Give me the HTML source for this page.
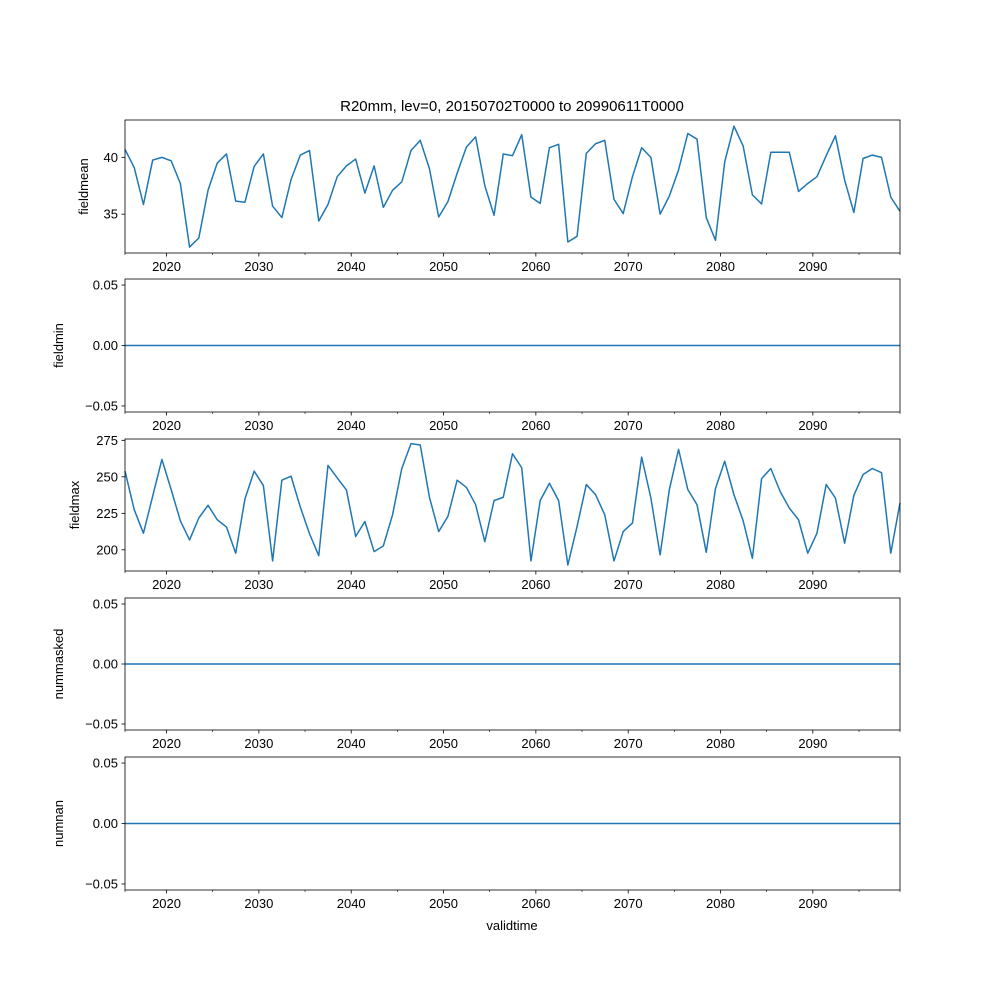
<!DOCTYPE html>
<html><head><meta charset="utf-8"><style>
html,body{margin:0;padding:0;background:#fff;}
svg{display:block;font-family:"Liberation Sans","DejaVu Sans",sans-serif;}
</style></head><body>
<svg id="fig" width="1000" height="1000" viewBox="0 0 1000 1000">
<text x="512" y="111" font-size="15" text-anchor="middle">R20mm, lev=0, 20150702T0000 to 20990611T0000</text>
<text x="512" y="930" font-size="13" text-anchor="middle">validtime</text>
</svg>
<script>
const fieldmeanValues=[40.7,39.1,35.85,39.76,40.0,39.7,37.7,32.1,32.9,37.1,39.5,40.3,36.15,36.05,39.2,40.3,35.7,34.7,38.05,40.2,40.6,34.4,35.85,38.3,39.25,39.85,36.85,39.25,35.6,37.1,37.85,40.6,41.5,39.0,34.75,36.1,38.6,40.9,41.8,37.5,34.9,40.3,40.15,42.0,36.5,35.95,40.85,41.15,32.55,33.05,40.35,41.2,41.5,36.3,35.05,38.3,40.85,40.0,35.0,36.6,38.9,42.1,41.6,34.7,32.7,39.6,42.75,41.0,36.7,35.9,40.45,40.45,40.45,37.0,37.7,38.3,40.15,41.9,38.0,35.15,39.9,40.2,40.0,36.5,35.25];
const fieldmaxValues=[253.9,227.5,211.4,236.7,261.9,241.3,219.9,206.8,221.8,230.5,220.6,215.6,197.7,234.8,253.9,244,192.4,247.7,250.4,229.3,211,196,257.8,249.3,241,209.1,219.4,198.8,202.7,224,255.7,272.7,271.8,236,212.5,222.9,247.7,242.8,230.9,205.6,233.7,236,265.8,256.2,192.4,233.7,245.6,233.7,189.6,216,244.7,237.8,224,192.4,212.5,218.3,263.5,235.5,196.5,241.3,268.8,241.3,230.9,198.3,242,260.7,237.8,219.9,194.2,248.8,255.7,240.1,228.6,220.6,197.7,211.4,244.7,235.5,204.5,237.3,251.6,255.7,252.8,197.7,232.1];
const zeroValues=new Array(85).fill(0);
const xTickLabels=[2020,2030,2040,2050,2060,2070,2080,2090];
const xMinorTicks=[2025,2035,2045,2055,2065,2075,2085,2095];
const fieldmeanTicks=[35,40];
const fieldmaxTicks=[200,225,250,275];
const zeroTicks=[-0.05,0.00,0.05];

const NS="http://www.w3.org/2000/svg";
const svg=document.getElementById('fig');
const X0=125,X1=900,YR0=2015.5,YR1=2099.44;
function xYear(y){return X0+(y-YR0)/(YR1-YR0)*(X1-X0);}
function xIdx(i,n){return X0+i/(n-1)*(X1-X0);}
function mk(tag,attrs,parent){const e=document.createElementNS(NS,tag);for(const k in attrs)e.setAttribute(k,attrs[k]);(parent||svg).appendChild(e);return e;}

const panels=[
 {name:'fieldmean',top:120,bot:253,min:31.58,max:43.29,vals:fieldmeanValues,ticks:fieldmeanTicks,fmt:v=>String(v),labx:88},
 {name:'fieldmin',top:279,bot:412,min:-0.055,max:0.055,vals:zeroValues,ticks:zeroTicks,fmt:v=>v.toFixed(2).replace('-','\u2212'),labx:63},
 {name:'fieldmax',top:439,bot:571,min:185.5,max:275.9,vals:fieldmaxValues,ticks:fieldmaxTicks,fmt:v=>String(v),labx:79},
 {name:'nummasked',top:598,bot:730,min:-0.055,max:0.055,vals:zeroValues,ticks:zeroTicks,fmt:v=>v.toFixed(2).replace('-','\u2212'),labx:63},
 {name:'numnan',top:757,bot:890,min:-0.055,max:0.055,vals:zeroValues,ticks:zeroTicks,fmt:v=>v.toFixed(2).replace('-','\u2212'),labx:63}
];
panels.forEach(p=>{
 const g=mk('g',{});
 
 
 const ys=v=>p.bot-(v-p.min)/(p.max-p.min)*(p.bot-p.top);
 const n=p.vals.length;
 const pts=p.vals.map((v,i)=>xIdx(i,n).toFixed(2)+','+ys(v).toFixed(2)).join(' ');
 const line=mk('polyline',{points:pts,fill:'none',stroke:'#1f77b4','stroke-width':1.5,'stroke-linejoin':'round'},g);
 
 
 const frame=mk('rect',{x:X0,y:p.top,width:X1-X0,height:p.bot-p.top,fill:'none',stroke:'#000','stroke-width':0.8},g);
 
 
 p.ticks.forEach(t=>{
  const y=ys(t);
  mk('line',{x1:X0-3.5,x2:X0,y1:y,y2:y,stroke:'#000','stroke-width':0.8},g);
  const tx=mk('text',{x:X0-7,y:y+4.5,'font-size':13,'text-anchor':'end'},g);
  tx.textContent=p.fmt(t);
  
  
 });
 xTickLabels.forEach(t=>{
  const x=xYear(t);
  mk('line',{x1:x,x2:x,y1:p.bot,y2:p.bot+3.5,stroke:'#000','stroke-width':0.8},g);
  const tx=mk('text',{x:x,y:p.bot+18,'font-size':13,'text-anchor':'middle'},g);
  tx.textContent=t;
  
  
 });
 xMinorTicks.forEach(t=>{const x=xYear(t);mk('line',{x1:x,x2:x,y1:p.bot,y2:p.bot+2,stroke:'#000','stroke-width':0.6},g);});
 [X0,X1].forEach(x=>mk('line',{x1:x,x2:x,y1:p.bot,y2:p.bot+2,stroke:'#000','stroke-width':0.6},g));
 const cy=(p.top+p.bot)/2;
 const yl=mk('text',{x:p.labx,y:cy,'font-size':13,'text-anchor':'middle',transform:'rotate(-90 '+p.labx+' '+cy+')'},g);
 yl.textContent=p.name;
 
 
});
</script>
</body></html>
